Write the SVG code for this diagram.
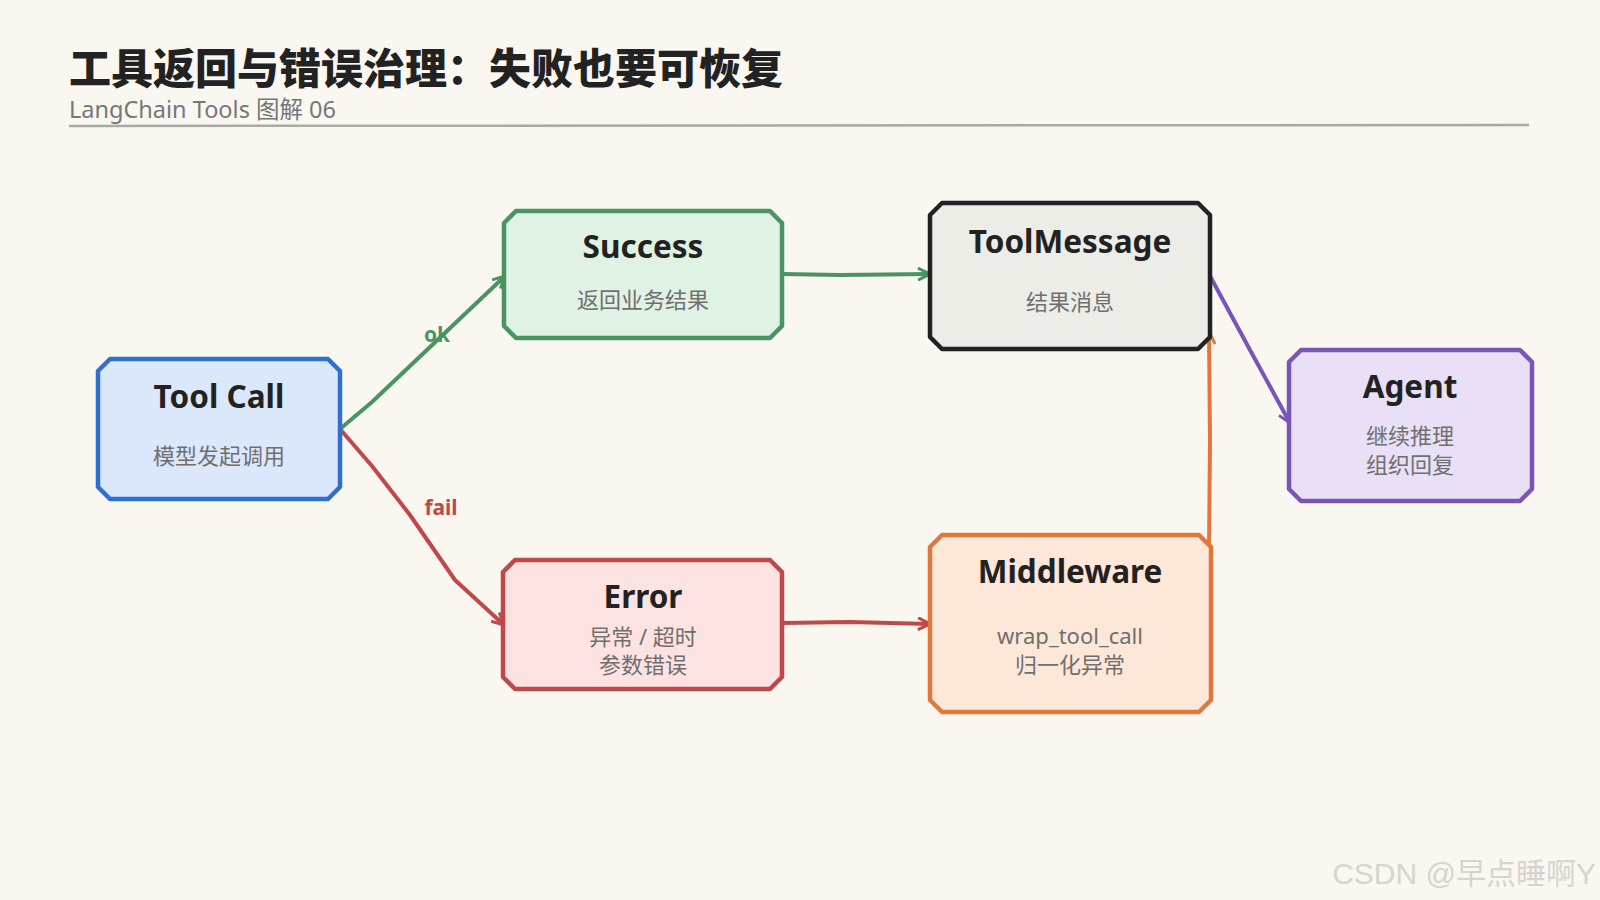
<svg xmlns="http://www.w3.org/2000/svg" width="1600" height="900" viewBox="0 0 1600 900">
<defs>
<style>
.title{font-family:"Noto Sans","Noto Sans CJK SC",sans-serif;font-weight:700;font-size:31.5px;fill:#222;text-anchor:middle}
.sub{font-family:"Noto Sans","Noto Sans CJK SC",sans-serif;font-size:22px;fill:#6f6f6f;text-anchor:middle}
.box{stroke-width:4.5;stroke-linejoin:round}
.edge{fill:none;stroke-width:4;stroke-linecap:round;stroke-linejoin:round}
.lbl{font-family:"Noto Sans","Noto Sans CJK SC",sans-serif;font-weight:700;font-size:21px;text-anchor:middle}
</style>
<marker id="agreen" viewBox="0 0 14 14" refX="13" refY="7" markerWidth="14" markerHeight="14" markerUnits="userSpaceOnUse" orient="auto"><path d="M1,1 L13,7 L1,13" fill="none" stroke="#4a9463" stroke-width="3"/></marker>
<marker id="ared" viewBox="0 0 14 14" refX="13" refY="7" markerWidth="14" markerHeight="14" markerUnits="userSpaceOnUse" orient="auto"><path d="M1,1 L13,7 L1,13" fill="none" stroke="#c04848" stroke-width="3"/></marker>
<marker id="aorange" viewBox="0 0 14 14" refX="13" refY="7" markerWidth="14" markerHeight="14" markerUnits="userSpaceOnUse" orient="auto"><path d="M1,1 L13,7 L1,13" fill="none" stroke="#e2773c" stroke-width="3"/></marker>
<marker id="apurple" viewBox="0 0 14 14" refX="13" refY="7" markerWidth="14" markerHeight="14" markerUnits="userSpaceOnUse" orient="auto"><path d="M1,1 L13,7 L1,13" fill="none" stroke="#7a55b5" stroke-width="3"/></marker>
</defs>
<rect width="1600" height="900" fill="#f9f7f0"/>
<g id="header">
<text x="69" y="84" font-family="Noto Sans CJK SC, sans-serif" font-weight="900" font-size="42" fill="#222">工具返回与错误治理：失败也要可恢复</text>
<text x="69" y="118" font-family="Noto Sans, Noto Sans CJK SC, sans-serif" font-size="23.5" fill="#777">LangChain Tools 图解 06</text>
<line x1="69" y1="126" x2="1529" y2="125" stroke="#aaa9a2" stroke-width="2.5"/>
</g>
<g id="connectors">
<path class="edge" stroke="#4a9463" d="M340,429 L372,402 L410,366 L448,330 L505,276" marker-end="url(#agreen)"/>
<path class="edge" stroke="#c04848" d="M340,429 L372,466 L410,515 L455,580 L504,625" marker-end="url(#ared)"/>
<path class="edge" stroke="#4a9463" d="M782,274 L840,275 L930,274" marker-end="url(#agreen)"/>
<path class="edge" stroke="#c04848" d="M782,623 L850,622 L930,624" marker-end="url(#ared)"/>
<path class="edge" stroke="#e2773c" d="M1209,551 L1210,440 L1209,332" marker-end="url(#aorange)"/>
<path class="edge" stroke="#7a55b5" d="M1210,276 L1250,350 L1290,423" marker-end="url(#apurple)"/>
<text class="lbl" x="437" y="342" fill="#4a9463">ok</text>
<text class="lbl" x="441" y="515" fill="#c04848">fail</text>
</g>
<g id="tool-call">
<path class="box" fill="#dbe8fb" stroke="#2f6fd0" d="M110,359 L328,359 L340,371 L340,487 L328,499 L110,499 L98,487 L98,371 Z"/>
<text class="title" x="219" y="408">Tool Call</text>
<text class="sub" x="219" y="464">模型发起调用</text>
</g>
<g id="success">
<path class="box" fill="#dff2e4" stroke="#4a9463" d="M516,211 L770,211 L782,223 L782,326 L770,338 L516,338 L504,326 L504,223 Z"/>
<text class="title" x="643" y="258">Success</text>
<text class="sub" x="643" y="308">返回业务结果</text>
</g>
<g id="toolmessage">
<path class="box" fill="#ecede6" stroke="#222" d="M942,203 L1198,203 L1210,215 L1210,337 L1198,349 L942,349 L930,337 L930,215 Z"/>
<text class="title" x="1070" y="253">ToolMessage</text>
<text class="sub" x="1070" y="310">结果消息</text>
</g>
<g id="agent">
<path class="box" fill="#e9e0f8" stroke="#7a55b5" d="M1301,350 L1520,350 L1532,362 L1532,489 L1520,501 L1301,501 L1289,489 L1289,362 Z"/>
<text class="title" x="1410" y="398">Agent</text>
<text class="sub" x="1410" y="444">继续推理</text>
<text class="sub" x="1410" y="473">组织回复</text>
</g>
<g id="error">
<path class="box" fill="#fde2e2" stroke="#c04848" d="M515,560 L770,560 L782,572 L782,677 L770,689 L515,689 L503,677 L503,572 Z"/>
<text class="title" x="643" y="608">Error</text>
<text class="sub" x="643" y="645">异常 / 超时</text>
<text class="sub" x="643" y="673">参数错误</text>
</g>
<g id="middleware">
<path class="box" fill="#fde7d8" stroke="#e2773c" d="M942,535 L1199,535 L1211,547 L1211,700 L1199,712 L942,712 L930,700 L930,547 Z"/>
<text class="title" x="1070" y="583">Middleware</text>
<text class="sub" x="1070" y="644">wrap_tool_call</text>
<text class="sub" x="1070" y="673">归一化异常</text>
</g>
<text x="1596" y="884" text-anchor="end" font-family="Liberation Sans, Noto Sans CJK SC, sans-serif" font-size="30" fill="#d6d4ce">CSDN @早点睡啊Y</text>
</svg>
